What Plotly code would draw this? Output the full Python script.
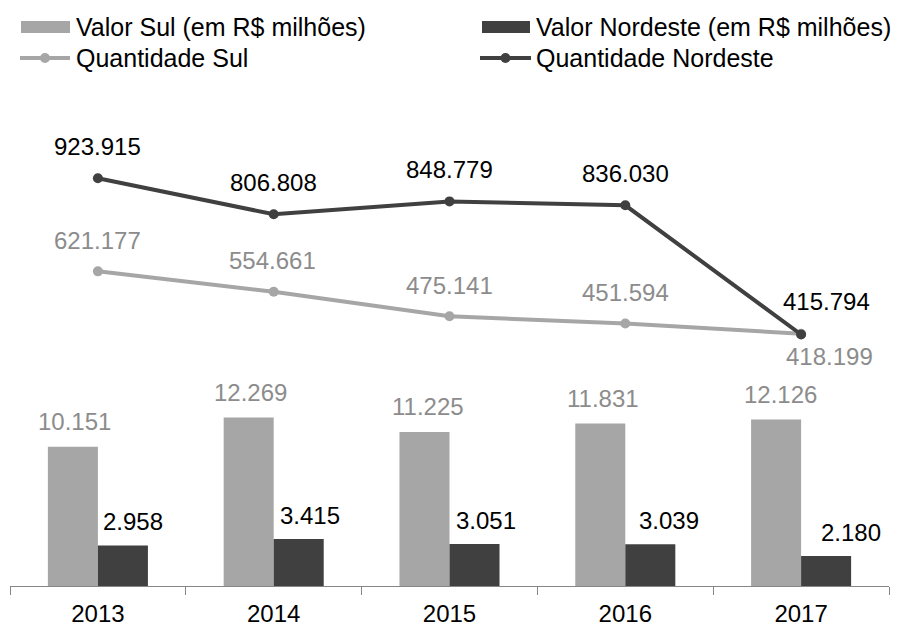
import plotly.graph_objects as go

# ---- data ----
anos = ["2013", "2014", "2015", "2016", "2017"]
valor_sul = [10151, 12269, 11225, 11831, 12126]
valor_nordeste = [2958, 3415, 3051, 3039, 2180]
qtd_sul = [621177, 554661, 475141, 451594, 418199]
qtd_nordeste = [923915, 806808, 848779, 836030, 415794]

nomes = ["Valor Sul (em R$ milhões)", "Valor Nordeste (em R$ milhões)",
         "Quantidade Sul", "Quantidade Nordeste"]

# label placement tweaks (pixels)
sul_bar_dx = [2, 2, 3, 3, 4]
ne_bar_dx = [10, 11, 11, 19, 25]
sul_line_dx = [0, -1, 0, 0, 28]
sul_line_dy = [31, 31, 31, 31, -23]
ne_line_dx = [0, 0, 0, 0, 25]
ne_line_dy = [32, 32, 32, 32, 33]


def br(v):
    return f"{v:,}".replace(",", ".")


LIGHT = "#a6a6a6"
DARK = "#404040"
LABEL_LIGHT = "#8c8c8c"
LABEL_DARK = "#000000"
AXIS = "#868686"
FONT = "Liberation Sans, Arial, sans-serif"
FS = 24
FS_LEG = 25

# the page body has an 8px margin, so the figure is drawn 8px in from the corner
OFF = 8
W, H = 900 - OFF, 628 - OFF
ML, MR, MT, MB = 10 - OFF, 11, 100 - OFF, 42
PW, PH = W - ML - MR, H - MT - MB


def px_x(px):  # page pixel -> paper
    return (px - OFF - ML) / PW


def px_y(py):
    return (H - MB - (py - OFF)) / PH


fig = go.Figure()
fig.add_trace(go.Bar(x=anos, y=valor_sul, name=nomes[0], marker=dict(color=LIGHT, line=dict(width=0)),
                     yaxis="y", showlegend=False))
fig.add_trace(go.Bar(x=anos, y=valor_nordeste, name=nomes[1], marker=dict(color=DARK, line=dict(width=0)),
                     yaxis="y", showlegend=False))
fig.add_trace(go.Scatter(x=anos, y=qtd_sul, name=nomes[2], mode="lines+markers",
                         line=dict(color=LIGHT, width=4), marker=dict(size=10, color=LIGHT),
                         yaxis="y2", showlegend=False))
fig.add_trace(go.Scatter(x=anos, y=qtd_nordeste, name=nomes[3], mode="lines+markers",
                         line=dict(color=DARK, width=4), marker=dict(size=10, color=DARK),
                         yaxis="y2", showlegend=False))

annotations = []
for i, a in enumerate(anos):
    # i is the category index on the category axis
    annotations.append(dict(x=i, y=valor_sul[i], xref="x", yref="y", text=br(valor_sul[i]),
                            showarrow=False, xshift=-25 + sul_bar_dx[i], yshift=25,
                            font=dict(color=LABEL_LIGHT, size=FS, family=FONT)))
    annotations.append(dict(x=i, y=valor_nordeste[i], xref="x", yref="y", text=br(valor_nordeste[i]),
                            showarrow=False, xshift=25 + ne_bar_dx[i], yshift=24,
                            font=dict(color=LABEL_DARK, size=FS, family=FONT)))
    annotations.append(dict(x=i, y=qtd_sul[i], xref="x", yref="y2", text=br(qtd_sul[i]),
                            showarrow=False, xshift=sul_line_dx[i], yshift=sul_line_dy[i],
                            font=dict(color=LABEL_LIGHT, size=FS, family=FONT)))
    annotations.append(dict(x=i, y=qtd_nordeste[i], xref="x", yref="y2", text=br(qtd_nordeste[i]),
                            showarrow=False, xshift=ne_line_dx[i], yshift=ne_line_dy[i],
                            font=dict(color=LABEL_DARK, size=FS, family=FONT)))

# manual legend (positions in page pixels)
shapes = []
leg = [
    (21, 70, 27, "bar", LIGHT, 75, nomes[0]),
    (482, 530, 27, "bar", DARK, 535, nomes[1]),
    (20, 70, 58, "line", LIGHT, 75, nomes[2]),
    (480, 531, 58, "line", DARK, 535, nomes[3]),
]
for x0, x1, yc, kind, col, tx, txt in leg:
    if kind == "bar":
        shapes.append(dict(type="rect", xref="paper", yref="paper", x0=px_x(x0), x1=px_x(x1),
                           y0=px_y(yc - 6), y1=px_y(yc + 6), fillcolor=col, line=dict(width=0)))
    else:
        shapes.append(dict(type="line", xref="paper", yref="paper", x0=px_x(x0), x1=px_x(x1),
                           y0=px_y(yc), y1=px_y(yc), line=dict(color=col, width=4)))
        shapes.append(dict(type="circle", xref="paper", yref="paper", xsizemode="pixel", ysizemode="pixel",
                           xanchor=px_x((x0 + x1) / 2), yanchor=px_y(yc), x0=-5, x1=5, y0=-5, y1=5,
                           fillcolor=col, line=dict(width=0)))
    annotations.append(dict(x=px_x(tx), y=px_y(yc), xref="paper", yref="paper", text=txt,
                            showarrow=False, xanchor="left", yanchor="middle", borderpad=0,
                            font=dict(color="#000000", size=FS_LEG, family=FONT)))

fig.update_layout(
    width=W, height=H,
    margin=dict(l=ML, r=MR, t=MT, b=MB, pad=0, autoexpand=False),
    paper_bgcolor="white", plot_bgcolor="white",
    font=dict(family=FONT, size=FS, color="#000000"),
    barmode="group", bargap=0.431, bargroupgap=0,
    showlegend=False,
    xaxis=dict(type="category", range=[-0.5, 4.5], autorange=False, automargin=False,
               showline=True, linecolor=AXIS, linewidth=1,
               ticks="outside", tickson="boundaries", ticklen=8, tickcolor=AXIS, tickwidth=1,
               ticklabelstandoff=6,
               showgrid=False, zeroline=False, tickangle=0,
               tickfont=dict(size=FS, color="#000000", family=FONT),
               fixedrange=True),
    yaxis=dict(range=[0, 35400], visible=False, fixedrange=True),
    yaxis2=dict(range=[-402370, 1178600], overlaying="y", visible=False, fixedrange=True),
    annotations=annotations,
    shapes=shapes,
)

fig.write_html("out.html")
